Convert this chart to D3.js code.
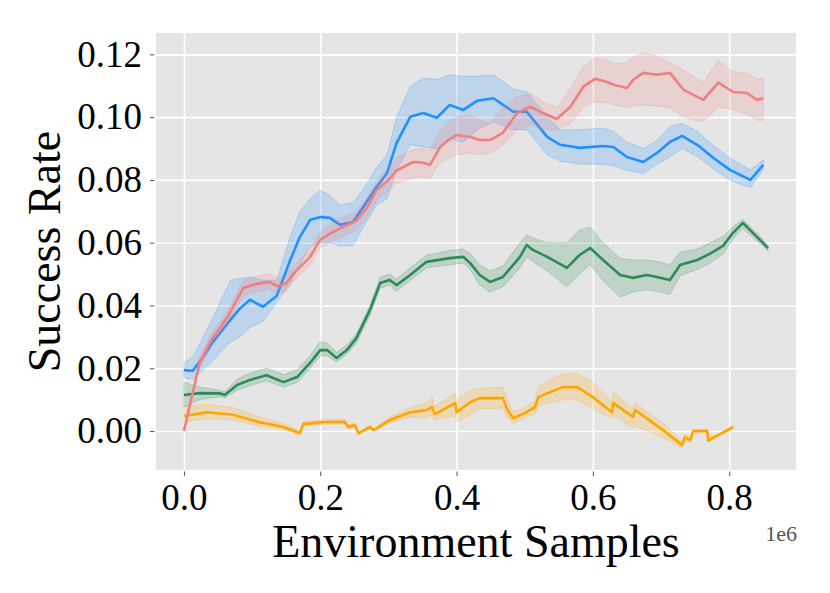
<!DOCTYPE html>
<html>
<head>
<meta charset="utf-8">
<script src="https://cdn.jsdelivr.net/npm/d3@7"></script>
<style>
  body { margin: 0; background: #fff; }
  text { font-family: "Liberation Serif", "DejaVu Serif", serif; }
</style>
</head>
<body>
<svg id="chart"></svg>
<script>
// x in units of 1e6 environment samples
var xTicks = [0.0, 0.2, 0.4, 0.6, 0.8];
var yTicks = [0.00, 0.02, 0.04, 0.06, 0.08, 0.10, 0.12];

var redX  = [0.000,0.010,0.023,0.040,0.063,0.087,0.100,0.115,0.125,0.137,0.150,0.160,0.185,0.200,0.215,0.233,0.253,0.268,0.283,0.300,0.312,0.336,0.350,0.361,0.376,0.390,0.400,0.420,0.434,0.449,0.468,0.489,0.508,0.527,0.547,0.567,0.586,0.603,0.621,0.630,0.650,0.659,0.674,0.694,0.713,0.733,0.762,0.784,0.806,0.826,0.841,0.850];
var redY  = [0.0000,0.0095,0.0217,0.0290,0.0360,0.0455,0.0465,0.0472,0.0475,0.0462,0.0470,0.0500,0.0555,0.0610,0.0630,0.0650,0.0670,0.0710,0.0768,0.0800,0.0830,0.0857,0.0855,0.0848,0.0905,0.0930,0.0943,0.0937,0.0927,0.0927,0.0950,0.1013,0.1033,0.1013,0.0994,0.1033,0.1097,0.1122,0.1112,0.1103,0.1093,0.1119,0.1141,0.1135,0.1141,0.1087,0.1055,0.1110,0.1080,0.1077,0.1055,0.1060];
var redLo = [0.0000,0.0085,0.0200,0.0270,0.0340,0.0430,0.0440,0.0447,0.0450,0.0437,0.0445,0.0475,0.0530,0.0585,0.0600,0.0620,0.0640,0.0680,0.0735,0.0765,0.0790,0.0806,0.0810,0.0805,0.0855,0.0870,0.0880,0.0886,0.0880,0.0885,0.0912,0.0960,0.0975,0.0960,0.0960,0.0980,0.1033,0.1049,0.1045,0.1040,0.1030,0.1035,0.1039,0.1035,0.1030,0.1000,0.0985,0.1033,0.1023,0.1010,0.0990,0.0990];
var redHi = [0.0000,0.0105,0.0235,0.0310,0.0380,0.0480,0.0490,0.0497,0.0500,0.0487,0.0495,0.0525,0.0580,0.0635,0.0660,0.0680,0.0700,0.0740,0.0800,0.0840,0.0870,0.0896,0.0900,0.0895,0.0955,0.0990,0.1000,0.1007,0.0990,0.0980,0.1030,0.1065,0.1075,0.1049,0.1030,0.1090,0.1160,0.1189,0.1180,0.1170,0.1173,0.1190,0.1205,0.1195,0.1173,0.1150,0.1110,0.1182,0.1144,0.1140,0.1120,0.1125];

var blueX  = [0.000,0.013,0.028,0.043,0.068,0.082,0.097,0.116,0.136,0.156,0.170,0.185,0.200,0.214,0.229,0.248,0.263,0.283,0.298,0.312,0.332,0.351,0.371,0.390,0.410,0.430,0.454,0.483,0.503,0.533,0.552,0.581,0.615,0.630,0.650,0.674,0.694,0.713,0.731,0.753,0.777,0.801,0.831,0.850];
var blueY  = [0.0194,0.0192,0.0236,0.0285,0.0354,0.0390,0.0418,0.0396,0.0430,0.0545,0.0618,0.0672,0.0682,0.0679,0.0657,0.0666,0.0714,0.0778,0.0822,0.0918,0.1001,0.1013,0.0998,0.1039,0.1023,0.1052,0.1060,0.1017,0.1017,0.0937,0.0912,0.0902,0.0908,0.0905,0.0873,0.0857,0.0886,0.0921,0.0940,0.0912,0.0870,0.0832,0.0800,0.0848];
var blueLo = [0.0170,0.0165,0.0195,0.0226,0.0284,0.0300,0.0330,0.0350,0.0410,0.0470,0.0530,0.0590,0.0600,0.0600,0.0590,0.0590,0.0650,0.0720,0.0740,0.0832,0.0912,0.0905,0.0900,0.0930,0.0920,0.0960,0.0985,0.0960,0.0960,0.0880,0.0860,0.0850,0.0850,0.0845,0.0830,0.0820,0.0850,0.0873,0.0900,0.0875,0.0835,0.0800,0.0775,0.0832];
var blueHi = [0.0218,0.0235,0.0300,0.0363,0.0480,0.0487,0.0490,0.0480,0.0480,0.0620,0.0700,0.0740,0.0768,0.0750,0.0720,0.0727,0.0770,0.0840,0.0880,0.1000,0.1097,0.1125,0.1120,0.1135,0.1130,0.1130,0.1135,0.1090,0.1080,0.1000,0.0960,0.0960,0.0965,0.0955,0.0920,0.0900,0.0925,0.0970,0.0980,0.0955,0.0910,0.0870,0.0832,0.0864];

var greenX  = [0.000,0.023,0.053,0.060,0.078,0.097,0.121,0.146,0.166,0.185,0.200,0.210,0.224,0.239,0.253,0.273,0.288,0.302,0.312,0.332,0.356,0.390,0.410,0.420,0.434,0.449,0.468,0.493,0.503,0.512,0.533,0.562,0.580,0.596,0.615,0.640,0.659,0.679,0.694,0.713,0.728,0.753,0.772,0.791,0.805,0.820,0.841,0.857];
var greenY  = [0.0115,0.0121,0.0120,0.0115,0.0147,0.0163,0.0178,0.0156,0.0172,0.0217,0.0258,0.0258,0.0233,0.0258,0.0296,0.0386,0.0472,0.0481,0.0465,0.0497,0.0539,0.0551,0.0555,0.0535,0.0497,0.0475,0.0491,0.0555,0.0593,0.0577,0.0555,0.0520,0.0560,0.0583,0.0545,0.0497,0.0488,0.0497,0.0491,0.0481,0.0529,0.0545,0.0565,0.0590,0.0630,0.0663,0.0618,0.0583];
var greenLo = [0.0076,0.0100,0.0110,0.0105,0.0130,0.0145,0.0160,0.0140,0.0155,0.0200,0.0240,0.0240,0.0220,0.0245,0.0280,0.0370,0.0455,0.0465,0.0445,0.0480,0.0520,0.0530,0.0535,0.0515,0.0465,0.0443,0.0460,0.0520,0.0555,0.0540,0.0510,0.0460,0.0500,0.0530,0.0480,0.0427,0.0443,0.0450,0.0445,0.0435,0.0495,0.0515,0.0535,0.0565,0.0610,0.0645,0.0605,0.0575];
var greenHi = [0.0156,0.0140,0.0130,0.0125,0.0165,0.0185,0.0200,0.0180,0.0195,0.0240,0.0285,0.0280,0.0250,0.0275,0.0310,0.0400,0.0490,0.0500,0.0485,0.0520,0.0560,0.0575,0.0580,0.0565,0.0530,0.0510,0.0525,0.0600,0.0625,0.0615,0.0600,0.0600,0.0640,0.0650,0.0600,0.0550,0.0545,0.0545,0.0540,0.0530,0.0570,0.0580,0.0600,0.0620,0.0650,0.0675,0.0630,0.0590];

var orangeX  = [0.000,0.034,0.072,0.111,0.146,0.170,0.175,0.204,0.236,0.241,0.251,0.256,0.273,0.278,0.302,0.332,0.356,0.364,0.368,0.398,0.400,0.420,0.434,0.468,0.474,0.483,0.500,0.515,0.520,0.537,0.556,0.577,0.600,0.628,0.630,0.659,0.662,0.703,0.731,0.735,0.743,0.747,0.768,0.769,0.806];
var orangeY  = [0.0048,0.0060,0.0052,0.0028,0.0013,-0.0007,0.0022,0.0029,0.0029,0.0013,0.0019,-0.0007,0.0013,0.0003,0.0035,0.0060,0.0067,0.0076,0.0054,0.0089,0.0060,0.0092,0.0105,0.0105,0.0070,0.0041,0.0057,0.0076,0.0108,0.0124,0.0140,0.0140,0.0108,0.0060,0.0089,0.0045,0.0067,0.0003,-0.0045,-0.0020,-0.0029,0.0000,0.0000,-0.0030,0.0013];
var orangeLo = [0.0030,0.0040,0.0035,0.0015,0.0005,-0.0012,0.0015,0.0022,0.0022,0.0008,0.0013,-0.0010,0.0010,0.0000,0.0025,0.0045,0.0040,0.0050,0.0035,0.0050,0.0030,0.0050,0.0070,0.0073,0.0045,0.0025,0.0040,0.0055,0.0080,0.0090,0.0100,0.0099,0.0070,0.0040,0.0050,0.0010,0.0015,-0.0020,-0.0055,-0.0030,-0.0035,-0.0005,-0.0005,-0.0035,0.0013];
var orangeHi = [0.0080,0.0085,0.0075,0.0045,0.0025,0.0000,0.0030,0.0036,0.0038,0.0020,0.0025,-0.0003,0.0018,0.0006,0.0045,0.0075,0.0090,0.0110,0.0080,0.0120,0.0095,0.0130,0.0135,0.0140,0.0105,0.0060,0.0075,0.0095,0.0140,0.0165,0.0180,0.0185,0.0155,0.0095,0.0124,0.0070,0.0090,0.0025,-0.0030,-0.0010,-0.0020,0.0005,0.0005,-0.0025,0.0013];

var width = 830;
var height = 593;
var panel = {left: 156, right: 796, top: 33, bottom: 470};

var series = [
  {color: '#FFA500', x: orangeX, y: orangeY, lo: orangeLo, hi: orangeHi},
  {color: '#2E8B57', x: greenX, y: greenY, lo: greenLo, hi: greenHi},
  {color: '#1E90FF', x: blueX, y: blueY, lo: blueLo, hi: blueHi},
  {color: '#F08080', x: redX, y: redY, lo: redLo, hi: redHi}
];

var xScale = d3.scaleLinear()
  .domain([-0.041, 0.898])
  .range([panel.left, panel.right]);

var yScale = d3.scaleLinear()
  .domain([-0.0124, 0.1268])
  .range([panel.bottom, panel.top]);

var svg = d3.select('#chart')
  .attr('width', width)
  .attr('height', height);

svg.append('rect')
  .attr('x', panel.left)
  .attr('y', panel.top)
  .attr('width', panel.right - panel.left)
  .attr('height', panel.bottom - panel.top)
  .attr('fill', '#E5E5E5');

// grid lines
var xAxis = d3.axisBottom(xScale)
  .tickValues(xTicks)
  .tickSize(-(panel.bottom - panel.top))
  .tickSizeOuter(0)
  .tickFormat('');
var yAxis = d3.axisLeft(yScale)
  .tickValues(yTicks)
  .tickSize(-(panel.right - panel.left))
  .tickSizeOuter(0)
  .tickFormat('');

svg.append('g')
  .attr('transform', 'translate(0,' + panel.bottom + ')')
  .call(xAxis)
  .call(g => g.select('.domain').remove())
  .selectAll('line').attr('stroke', '#fff').attr('stroke-width', 1.6);

svg.append('g')
  .attr('transform', 'translate(' + panel.left + ',0)')
  .call(yAxis)
  .call(g => g.select('.domain').remove())
  .selectAll('line').attr('stroke', '#fff').attr('stroke-width', 1.6);

// ticks with labels
var xTickAxis = d3.axisBottom(xScale)
  .tickValues(xTicks)
  .tickSize(4.5)
  .tickPadding(8)
  .tickFormat(d3.format('.1f'));
var yTickAxis = d3.axisLeft(yScale)
  .tickValues(yTicks)
  .tickSize(4.5)
  .tickPadding(8)
  .tickFormat(d3.format('.2f'));

var gx = svg.append('g')
  .attr('transform', 'translate(0,' + (panel.bottom + 1.5) + ')')
  .call(xTickAxis);
gx.select('.domain').remove();
gx.selectAll('line').attr('stroke', '#555');
gx.selectAll('text')
  .attr('font-family', '"Liberation Serif", serif')
  .attr('font-size', 37)
  .attr('fill', '#000');

var gy = svg.append('g')
  .attr('transform', 'translate(' + (panel.left - 1.5) + ',0)')
  .call(yTickAxis);
gy.select('.domain').remove();
gy.selectAll('line').attr('stroke', '#555');
gy.selectAll('text')
  .attr('font-family', '"Liberation Serif", serif')
  .attr('font-size', 37)
  .attr('fill', '#000');

// bands and lines
var plot = svg.append('g');

series.forEach(function(s) {
  var rows = s.x.map((d, i) => ({x: d, y: s.y[i], lo: s.lo[i], hi: s.hi[i]}));

  var area = d3.area()
    .x(d => xScale(d.x))
    .y0(d => yScale(d.lo))
    .y1(d => yScale(d.hi));

  var line = d3.line()
    .x(d => xScale(d.x))
    .y(d => yScale(d.y));

  plot.append('path')
    .datum(rows)
    .attr('d', area)
    .attr('fill', s.color)
    .attr('fill-opacity', 0.2)
    .attr('stroke', s.color)
    .attr('stroke-opacity', 0.25)
    .attr('stroke-width', 1);

  plot.append('path')
    .datum(rows)
    .attr('d', line)
    .attr('fill', 'none')
    .attr('stroke', s.color)
    .attr('stroke-width', 2.6)
    .attr('stroke-linejoin', 'round');
});

// axis labels
svg.append('text')
  .attr('x', (panel.left + panel.right) / 2)
  .attr('y', 557)
  .attr('font-size', 46)
  .style('text-anchor', 'middle')
  .text('Environment Samples');

svg.append('text')
  .attr('transform', 'rotate(-90)')
  .attr('x', -(panel.top + panel.bottom) / 2)
  .attr('y', 60)
  .attr('font-size', 46)
  .style('text-anchor', 'middle')
  .text('Success Rate');

svg.append('text')
  .attr('x', 797)
  .attr('y', 541)
  .attr('font-size', 22)
  .attr('fill', '#555')
  .style('text-anchor', 'end')
  .text('1e6');
</script>
</body>
</html>
